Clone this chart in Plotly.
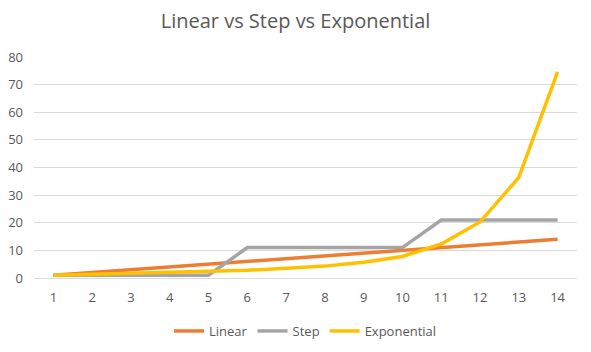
import plotly.graph_objects as go

x_vals = list(range(1, 15))
linear = [1, 2, 3, 4, 5, 6, 7, 8, 9, 10, 11, 12, 13, 14]
step = [1, 1, 1, 1, 1, 11, 11, 11, 11, 11, 21, 21, 21, 21]
exponential = [1, 1.3, 1.8, 2.1, 2.4, 2.8, 3.5, 4.3, 5.7, 7.8, 12.3, 20.3, 36.4, 74.6]
y_ticks = [0, 10, 20, 30, 40, 50, 60, 70, 80]

FONT = "Open Sans"
fig = go.Figure()
for name, vals, col in [("Linear", linear, "#ED7D31"),
                        ("Step", step, "#A5A5A5"),
                        ("Exponential", exponential, "#FFC000")]:
    fig.add_trace(go.Scatter(x=x_vals, y=vals, name=name, mode="lines",
                             line=dict(color=col, width=3.5)))

fig.update_layout(
    width=591, height=352,
    margin=dict(l=34, r=14, t=57, b=74, autoexpand=False),
    paper_bgcolor="white", plot_bgcolor="white",
    font=dict(family=FONT, color="#595959", size=13),
    title=dict(text="Linear vs Step vs Exponential", x=0.5, xanchor="center",
               y=1 - 21 / 352, yanchor="middle",
               font=dict(size=20, color="#595959", family=FONT)),
    xaxis=dict(range=[0.5, 14.5], tickvals=x_vals, showgrid=False,
               showline=True, linecolor="#D9D9D9", linewidth=1,
               ticks="", zeroline=False, ticklabelstandoff=7,
               tickfont=dict(size=13, color="#595959"), fixedrange=True),
    yaxis=dict(range=[0, 80], tickvals=y_ticks, showgrid=True,
               gridcolor="#D9D9D9", gridwidth=1, zeroline=False,
               showline=False, ticks="", ticklabelstandoff=10,
               tickfont=dict(size=13, color="#595959")),
    legend=dict(orientation="h", x=0.5, xanchor="center",
                yref="container", y=1 - 331 / 352, yanchor="middle",
                font=dict(size=13, color="#595959"),
                itemwidth=30, tracegroupgap=0),
    showlegend=True,
)

fig.write_html("out.html")
